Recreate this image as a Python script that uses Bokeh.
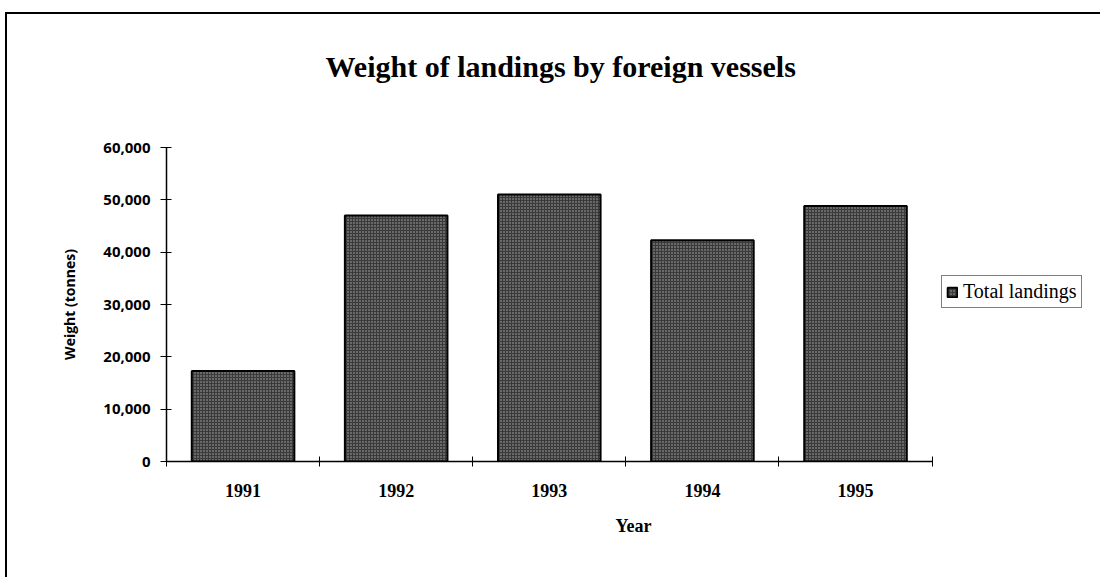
from bokeh.plotting import figure
from bokeh.models import FixedTicker, NumeralTickFormatter, Range1d, Legend, LegendItem, ColumnDataSource, Title
from bokeh.embed import file_html
from bokeh.resources import INLINE

years = ["1991", "1992", "1993", "1994", "1995"]
landings = [17300, 47000, 51000, 42300, 48800]
y_ticks = [0, 10000, 20000, 30000, 40000, 50000, 60000]

xpos = list(range(1, len(years) + 1))
src = ColumnDataSource(dict(x=xpos, top=landings))

SERIF = "Liberation Serif"
SANS = "Open Sans"

W, H = 1095, 565
n = len(years)
# extra room to the right of the last category holds the legend
p = figure(width=W, height=H, output_backend="svg", toolbar_location=None,
           x_range=Range1d(0.5, n + 0.5 + 1.1), y_range=Range1d(0, 60000),
           min_border_left=159, min_border_right=2, min_border_top=133, min_border_bottom=118)
p.styles = {"border-top": "2px solid black", "border-left": "2px solid black",
            "margin-top": "12px", "margin-left": "5px"}

p.title.text = "Weight of landings by foreign vessels"
p.title.align = "left"
p.title.offset = 159
p.title.text_font = SERIF
p.title.text_font_size = "30px"
p.title.text_font_style = "bold"
p.title.text_color = "black"
p.title.standoff = 0

# blank spacer between title and plot area
p.add_layout(Title(text=" ", text_font_size="10px", standoff=52), "above")

r = p.vbar(x="x", top="top", width=0.67, source=src,
           fill_color="#3a3a3a", line_color="black", line_width=2,
           hatch_pattern="dot", hatch_color="white", hatch_scale=3, hatch_weight=1, hatch_alpha=0.6)

p.grid.visible = False
p.outline_line_color = None

# x axis: labels at centres, tick marks at category boundaries
p.xaxis.ticker = FixedTicker(ticks=xpos, minor_ticks=[i + 0.5 for i in range(n + 1)])
p.xaxis.bounds = (0.5, n + 0.5)
p.xaxis.major_label_overrides = {i + 1: y for i, y in enumerate(years)}
p.xaxis.major_tick_in = 0
p.xaxis.major_tick_out = 0
p.xaxis.minor_tick_in = 5
p.xaxis.minor_tick_out = 5
p.xaxis.minor_tick_line_color = "black"
p.xaxis.axis_label = "Year"
p.xaxis.major_label_standoff = 17

p.yaxis.ticker = FixedTicker(ticks=y_ticks, minor_ticks=[])
p.yaxis.formatter = NumeralTickFormatter(format="0,0")
p.yaxis.major_tick_in = 5
p.yaxis.major_tick_out = 6
p.yaxis.major_label_standoff = 10
p.yaxis.axis_label = "Weight (tonnes)"
p.yaxis.axis_label_standoff = 21

for ax in (p.xaxis, p.yaxis):
    ax.axis_line_color = "black"
    ax.axis_line_width = 1.5
    ax.major_tick_line_color = "black"
    ax.major_label_text_color = "black"
    ax.axis_label_text_color = "black"

p.xaxis.major_label_text_font = SERIF
p.xaxis.major_label_text_font_size = "18px"
p.xaxis.major_label_text_font_style = "bold"
p.xaxis.axis_label_text_font = SERIF
p.xaxis.axis_label_text_font_size = "18px"
p.xaxis.axis_label_text_font_style = "bold"
p.xaxis.axis_label_standoff = 16

p.yaxis.major_label_text_font = SANS
p.yaxis.major_label_text_font_size = "15px"
p.yaxis.major_label_text_font_style = "bold"
p.yaxis.axis_label_text_font = SANS
p.yaxis.axis_label_text_font_size = "14px"
p.yaxis.axis_label_text_font_style = "bold"

legend = Legend(items=[LegendItem(label="Total landings", renderers=[r])],
                location=(775, 153), border_line_color="black", border_line_width=1.5,
                label_text_font=SERIF, label_text_font_size="20px", label_text_color="black",
                glyph_width=12, glyph_height=12, padding=4, margin=0, spacing=0,
                label_standoff=5, label_height=21)
p.add_layout(legend)

open("out.html", "w").write(file_html(p, INLINE))
